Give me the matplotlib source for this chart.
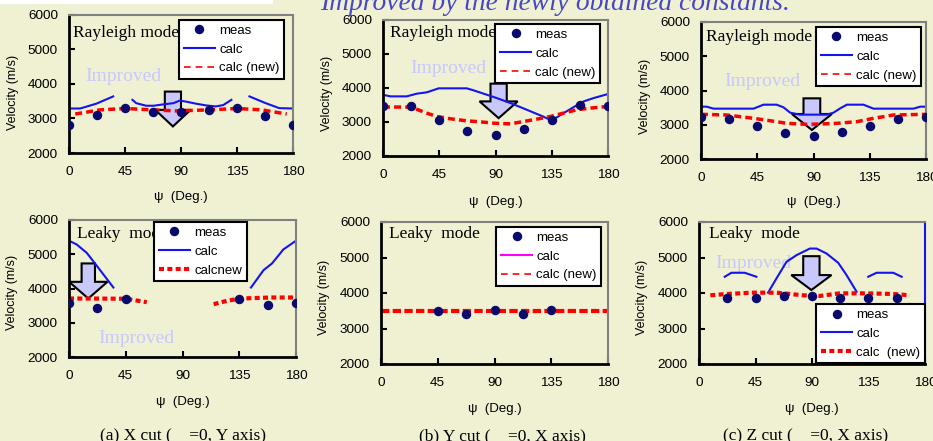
import numpy as np
import matplotlib
matplotlib.use('Agg')
import matplotlib.pyplot as plt
from matplotlib.patches import FancyArrow, Rectangle

plt.rcParams['font.family'] = ['Liberation Sans', 'DejaVu Sans']
nan = np.nan

# ---------------- data ----------------
xticks = [0, 45, 90, 135, 180]
yticks = [2000, 3000, 4000, 5000, 6000]
psi9 = [0, 22.5, 45, 67.5, 90, 112.5, 135, 157.5, 180]

# (a) X cut, Rayleigh
a_ray_meas = [2800, 3090, 3300, 3200, 3200, 3260, 3300, 3070, 2800]
a_ray_calc_psi = [0, 9, 22, 35.5, nan, 51, 54, 62, 68, 76, 84, 89, 94, 102, 110, 118, 124, 130.5,
                  nan, 145, 158, 169, 180]
a_ray_calc = [3290, 3290, 3430, 3640, nan, 3540, 3445, 3370, 3370, 3410, 3445, 3520, 3490, 3430,
              3380, 3350, 3390, 3540, nan, 3640, 3445, 3300, 3290]
a_ray_new_psi = [5, 25, 45, 67.5, 86, 112.5, 135, 155, 175]
a_ray_new = [3130, 3250, 3290, 3250, 3220, 3250, 3290, 3250, 3130]

# (b) Y cut, Rayleigh
b_ray_meas = [3480, 3460, 3060, 2750, 2620, 2790, 3060, 3490, 3480]
b_ray_calc_psi = [0, 6, 19, 27, 35, 44.5, 54, 67, 72.5, 83, 91, 102, 115, 128, 132.5, 138, 144.5,
                  152.5, 160.5, 168.5, 180]
b_ray_calc = [3800, 3754, 3754, 3833, 3872, 3990, 3990, 3990, 3931, 3803, 3704, 3557, 3360, 3163,
              3084, 3113, 3261, 3438, 3606, 3704, 3823]
b_ray_new_psi = [0, 19, 24.5, 35, 43, 54, 67, 78, 88.5, 102, 112.5, 123, 134, 144.5, 155, 166, 180]
b_ray_new = [3440, 3440, 3409, 3261, 3163, 3094, 3034, 3005, 2965, 2946, 3015, 3084, 3163, 3261,
             3360, 3409, 3458]

# (c) Z cut, Rayleigh
c_ray_meas = [3240, 3160, 2970, 2770, 2680, 2790, 2970, 3160, 3240]
c_ray_calc_psi = [0, 4.5, 10, 42, 50, 60.5, 66, 71.3, 79, 90, 100.7, 106, 111.4, 116.7, 130, 138,
                  170, 175.4, 180]
c_ray_calc = [3528, 3528, 3470, 3470, 3586, 3586, 3509, 3353, 3295, 3295, 3295, 3353, 3480, 3586,
              3586, 3470, 3470, 3528, 3528]
c_ray_new_psi = [0, 20.6, 42, 55, 68.6, 84.7, 95.3, 108.7, 124.7, 138, 154, 180]
c_ray_new = [3304, 3285, 3187, 3119, 3041, 3012, 3022, 3041, 3090, 3187, 3285, 3304]

# (a) X cut, Leaky
a_lky_meas_psi = [0, 22.5, 45, 135, 157.5, 180]
a_lky_meas = [3580, 3430, 3700, 3700, 3530, 3580]
a_lky_calc_psi = [0, 6, 14, 20.6, 27.3, 35.2, nan, 144.3, 154.3, 161, 170, 180]
a_lky_calc = [5395, 5288, 5044, 4732, 4410, 4029, nan, 4029, 4537, 4732, 5141, 5395]
a_lky_new_psi = [0, 20, 45, 61.7, nan, 114.7, 125, 135.8, 160, 180]
a_lky_new = [3707, 3707, 3700, 3600, nan, 3541, 3639, 3707, 3737, 3737]

# (b) Y cut, Leaky
b_lky_meas_psi = [45, 67.5, 90, 112.5, 135]
b_lky_meas = [3480, 3420, 3510, 3420, 3510]
b_lky_calc_psi = []
b_lky_calc = []
b_lky_new_psi = [0, 45, 90, 135, 180]
b_lky_new = [3490, 3490, 3490, 3490, 3490]

# (c) Z cut, Leaky
c_lky_meas_psi = [22.5, 45, 67.5, 90, 112.5, 135, 157.5]
c_lky_meas = [3850, 3870, 3920, 3920, 3870, 3870, 3870]
c_lky_calc_psi = [20.5, 25.8, 36.4, 45.7, nan, 55, 61.7, 69.7, 77.6, 88.3, 93.6, 101.6, 110.9,
                  117.5, 125.5, nan, 134.8, 141.4, 154.7, 161.4]
c_lky_calc = [4458, 4570, 4570, 4458, nan, 4009, 4411, 4879, 5065, 5252, 5252, 5112, 4850, 4505,
              4037, nan, 4458, 4570, 4570, 4458]
c_lky_new_psi = [9, 21.8, 43, 61.7, 83, 96, 112, 133.5, 155, 168]
c_lky_new = [3935, 3972, 4009, 4009, 3935, 3916, 3990, 3990, 3972, 3935]

title = 'Improved by the newly obtained constants.'
captions = ['(a) X cut (    =0, Y axis)', '(b) Y cut (    =0, X axis)', '(c) Z cut (    =0, X axis)']

# ---------------- style ----------------
BG = '#F0F0D2'
BLUE = '#1414F0'
RED = '#FF0000'
NAVY = '#0A0A6E'
LAV = '#C8C8FA'
W, H = 933, 441

fig = plt.figure(figsize=(W / 100, H / 100), dpi=100, facecolor=BG)
fig.patches.append(Rectangle((0, 1 - 3 / H), 272 / W, 3 / H, transform=fig.transFigure,
                             color='white', zorder=0))


def make_axes(l, t, r, b, xlab_y, ylab_y, right_color='#808080'):
    ax = fig.add_axes([l / W, 1 - b / H, (r - l) / W, (b - t) / H])
    ax.set_facecolor(BG)
    ax.set_xlim(0, 180)
    ax.set_ylim(2000, 6000)
    ax.set_xticks(xticks)
    ax.set_yticks(yticks)
    ax.tick_params(direction='in', length=4, width=1.5, labelsize=9.7)
    ax.tick_params(axis='x', pad=9.5)
    ax.tick_params(axis='y', pad=8)
    for s in ['left', 'bottom']:
        ax.spines[s].set_color('black')
        ax.spines[s].set_linewidth(2)
    for s in ['top', 'right']:
        ax.spines[s].set_color('#808080')
        ax.spines[s].set_linewidth(1.5)
    ax.spines['right'].set_color(right_color)
    ax.set_xlabel('ψ  (Deg.)', fontsize=9.5)
    ax.xaxis.set_label_coords(0.5, -xlab_y)
    ax.xaxis.label.set_va('center')
    ax.set_ylabel('Velocity (m/s)', fontsize=9)
    ax.yaxis.set_label_coords(-0.25, ylab_y)
    ax.yaxis.label.set_va('center')
    return ax


leg_kw = dict(fontsize=9.5, frameon=True, fancybox=False, framealpha=1, edgecolor='black',
              facecolor='white', borderpad=0.35, labelspacing=0.5, handlelength=2.4,
              handletextpad=0.3, borderaxespad=0, numpoints=1)


def legend(ax, anchor, labels, thin_new=True, loc='upper left'):
    leg = ax.legend(labels=labels, bbox_to_anchor=anchor, loc=loc, **leg_kw)
    leg.get_frame().set_linewidth(1.5)
    if thin_new:
        ln = leg.get_lines()[2]
        ln.set_linewidth(1.2)
        ln.set_dashes((4, 3))
    return leg


def mode_text(ax, x, y, s):
    ax.text(x, y, s, fontsize=12.5, family='Liberation Serif', ha='left', va='center', zorder=1)


def improved(ax, x, y):
    ax.text(x, y, 'Improved', fontsize=14, family='Liberation Serif', color='#C8C8FF',
            ha='center', va='center', zorder=1)


def arrow(ax, cx, top, tip, sw, hw, hl):
    ax.add_patch(FancyArrow(cx, top, 0, tip - top, width=sw, head_width=hw, head_length=hl,
                            length_includes_head=True, fc=LAV, ec='black', lw=1.5, zorder=1.5))


def meas(ax, x, y):
    ax.plot(x, y, 'o', ms=5.8, color=NAVY, zorder=3)


# Panel 1: (a) Rayleigh
ax = make_axes(69, 15, 293, 153, 0.319, 0.44)
meas(ax, psi9, a_ray_meas)
ax.plot(a_ray_calc_psi, a_ray_calc, color=BLUE, lw=1.5)
ax.plot(a_ray_new_psi, a_ray_new, color=RED, lw=2.5, dashes=(2, 1.2))
mode_text(ax, 3.5, 5478, 'Rayleigh mode')
improved(ax, 44, 4217)
arrow(ax, 83.5, 3780, 2770, 13, 28.4, 480)
legend(ax, (0.491, 0.964), ['meas', 'calc', 'calc (new)'])

# Panel 2: (b) Rayleigh
ax = make_axes(383, 20, 608, 156, 0.338, 0.46)
meas(ax, psi9, b_ray_meas)
ax.plot(b_ray_calc_psi, b_ray_calc, color=BLUE, lw=1.5)
ax.plot(b_ray_new_psi, b_ray_new, color=RED, lw=2.5, dashes=(2, 1.2))
mode_text(ax, 5.3, 5626, 'Rayleigh mode')
improved(ax, 52, 4570)
arrow(ax, 92.5, 4128, 3113, 13, 30.5, 493)
legend(ax, (0.498, 0.97), ['meas', 'calc', 'calc (new)'])

# Panel 3: (c) Rayleigh
ax = make_axes(701, 22, 926, 159, 0.314, 0.46)
meas(ax, psi9, c_ray_meas)
ax.plot(c_ray_calc_psi, c_ray_calc, color=BLUE, lw=1.5)
ax.plot(c_ray_new_psi, c_ray_new, color=RED, lw=2.5, dashes=(2, 1.2))
mode_text(ax, 4, 5572, 'Rayleigh mode')
improved(ax, 49, 4258)
arrow(ax, 88.7, 3771, 2847, 13.4, 32, 467)
legend(ax, (0.511, 0.963), ['meas', 'calc', 'calc (new)'])

# Panel 4: (a) Leaky
ax = make_axes(69, 220, 296, 357, 0.328, 0.47)
meas(ax, a_lky_meas_psi, a_lky_meas)
ax.plot(a_lky_calc_psi, a_lky_calc, color=BLUE, lw=1.5)
ax.plot(a_lky_new_psi, a_lky_new, color=RED, lw=3, dashes=(1.2, 0.8))
mode_text(ax, 6.6, 5590, 'Leaky  mode')
improved(ax, 53, 2537)
arrow(ax, 15.3, 4732, 3707, 10.6, 30.4, 488)
legend(ax, (0.374, 0.985), ['meas', 'calc', 'calcnew'], thin_new=False)

# Panel 5: (b) Leaky
ax = make_axes(381, 222, 608, 364, 0.317, 0.47)
meas(ax, b_lky_meas_psi, b_lky_meas)
ax.plot(b_lky_calc_psi, b_lky_calc, color='#FF00FF', lw=1.5)
ax.plot(b_lky_new_psi, b_lky_new, color=RED, lw=3, dashes=(2, 0.8))
mode_text(ax, 6.4, 5671, 'Leaky  mode')
legend(ax, (0.507, 0.965), ['meas', 'calc', 'calc (new)'])

# Panel 6: (c) Leaky
ax = make_axes(699, 222, 925, 364, 0.317, 0.47, right_color=BLUE)
meas(ax, c_lky_meas_psi, c_lky_meas)
ax.plot(c_lky_calc_psi, c_lky_calc, color=BLUE, lw=1.5)
ax.plot(c_lky_new_psi, c_lky_new, color=RED, lw=3, dashes=(1.2, 0.8))
mode_text(ax, 8, 5654, 'Leaky  mode')
improved(ax, 43, 4832)
arrow(ax, 89.5, 5037, 4084, 13, 32, 421)
legend(ax, (1.0, 0.42), ['meas', 'calc', 'calc  (new)'], thin_new=False, loc='upper right')

# Title and captions
fig.text(555 / W, 1 - 10 / H, title, ha='center', va='baseline', fontsize=19.8,
         style='italic', family='Liberation Serif', color='#4646C8')
for cx, cap in zip([183, 502, 806], captions):
    fig.text(cx / W, 1 / H, cap, ha='center', va='baseline', fontsize=12.5,
             family='Liberation Serif')

fig.savefig('out.png', dpi=100, facecolor=BG)
